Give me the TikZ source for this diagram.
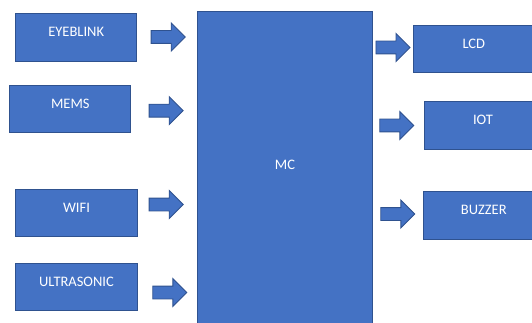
\documentclass[tikz,border=0pt]{standalone}
\usepackage{fontspec}
\setmainfont{Carlito}
\usetikzlibrary{shapes.arrows}
\definecolor{boxfill}{HTML}{4472C4}
\definecolor{boxline}{HTML}{2F528F}
\tikzset{
  blk/.style={draw=boxline, fill=boxfill, line width=1pt, inner sep=0pt, rectangle},
  lbl/.style={text=white, font=\fontsize{14.5}{17}\selectfont, yshift=5.5pt, inner sep=0pt},
  flow/.style={draw=boxline, fill=boxfill, line width=0.9pt, single arrow, inner xsep=0pt, inner ysep=6pt,
    minimum height=34pt, minimum width=27pt, single arrow head extend=7.5pt, anchor=tail},
}
\begin{document}
\begin{tikzpicture}[x=1pt,y=-1pt]
\useasboundingbox (0,0) rectangle (532,323);
\clip (0,0) rectangle (532,323);
% input blocks
\node[blk, minimum width=121pt, minimum height=47.7pt, label={[lbl]center:EYEBLINK}] (eye) at (76.2,37.2) {};
\node[blk, minimum width=120.7pt, minimum height=47pt, label={[lbl]center:MEMS}] (mems) at (70.3,109.2) {};
\node[blk, minimum width=121.6pt, minimum height=47.4pt, label={[lbl]center:WIFI}] (wifi) at (76.5,213) {};
\node[blk, minimum width=121.6pt, minimum height=47.4pt, label={[lbl]center:ULTRASONIC}] (ultra) at (76.5,287) {};
% controller
\node[blk, minimum width=174.7pt, minimum height=330pt] (mc) at (284.7,176.7) {};
\node[lbl, yshift=-5.5pt] (mctext) at (285,165) {MC};
% output blocks
\node[blk, minimum width=121pt, minimum height=47.7pt, label={[lbl]center:LCD}] (lcd) at (473.8,48.9) {};
\node[blk, minimum width=118pt, minimum height=47.6pt, label={[lbl]center:IOT}] (iot) at (483,125.5) {};
\node[blk, minimum width=121pt, minimum height=48pt, label={[lbl]center:BUZZER}] (buzz) at (483.8,215) {};
% block arrows
\node[flow] (a1) at (150.7,37) {};
\node[flow] (a2) at (148.7,110.7) {};
\node[flow] (a3) at (148.7,204.5) {};
\node[flow] (a4) at (152.3,292.5) {};
\node[flow] (a5) at (375.5,47.5) {};
\node[flow] (a6) at (379.3,125.5) {};
\node[flow] (a7) at (380.3,214) {};
\end{tikzpicture}
\end{document}
